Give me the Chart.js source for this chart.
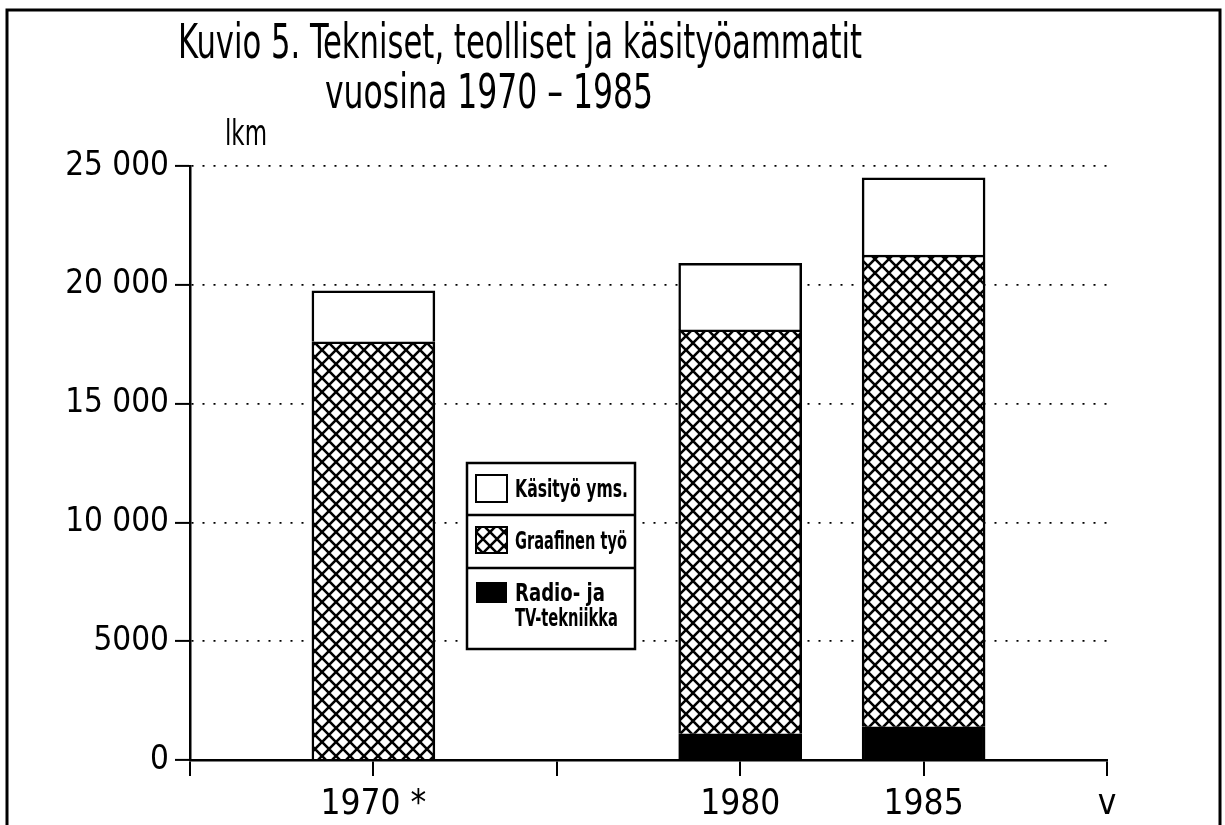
<!DOCTYPE html>
<html>
<head>
<meta charset="utf-8">
<script src="https://cdn.jsdelivr.net/npm/chart.js@4/dist/chart.umd.min.js"></script>
<style>
  body { margin: 0; background: #fff; }
</style>
</head>
<body>
<canvas id="myChart" width="1225" height="825"></canvas>
<script>
// data (persons)
var years = [1970, 1980, 1985];
var radioTv = [0, 1100, 1400];
var graafinen = [17600, 17000, 19850];
var kasityo = [2150, 2800, 3250];
var yTicks = [0, 5000, 10000, 15000, 20000, 25000];
var xLabels = { 1970: '1970 *', 1980: '1980', 1985: '1985', 1990: 'v' };

var FONT = "'Liberation Sans Narrow', 'DejaVu Sans Condensed', sans-serif";

function points(values) {
    return years.map(function (y, i) { return { x: y, y: values[i] }; });
}

function makeHatch(ctx) {
    var c = document.createElement('canvas');
    c.width = 14; c.height = 14;
    var g = c.getContext('2d');
    g.fillStyle = '#fff';
    g.fillRect(0, 0, 14, 14);
    g.strokeStyle = '#000';
    g.lineWidth = 2.6;
    g.beginPath();
    g.moveTo(-2, -2); g.lineTo(16, 16);
    g.moveTo(16, -2); g.lineTo(-2, 16);
    g.stroke();
    return ctx.createPattern(c, 'repeat');
}

function displayChart() {
    var ctx = document.getElementById('myChart').getContext('2d');
    var hatch = makeHatch(ctx);

    // title, unit label, legend box and outer frame
    var decor = {
        id: 'decor',
        afterDraw: function (chart) {
            var c = chart.ctx;
            c.save();
            c.fillStyle = '#000';
            c.strokeStyle = '#000';
            c.textBaseline = 'alphabetic';
            c.textAlign = 'left';

            c.font = '48px ' + FONT;
            c.fillText('Kuvio 5. Tekniset, teolliset ja käsityöammatit', 178, 58, 684);
            c.fillText('vuosina 1970 – 1985', 325, 108, 328);
            c.font = '36px ' + FONT;
            c.fillText('lkm', 225, 145, 42);

            // frame
            c.lineWidth = 3;
            c.strokeRect(7, 10, 1213, 830);

            // legend
            var lx = 467, ly = 463, lw = 168;
            c.fillStyle = '#fff';
            c.fillRect(lx, ly, lw, 186);
            c.lineWidth = 2.5;
            c.strokeRect(lx, ly, lw, 186);
            c.beginPath();
            c.moveTo(lx, 515); c.lineTo(lx + lw, 515);
            c.moveTo(lx, 568); c.lineTo(lx + lw, 568);
            c.stroke();

            var ds = chart.data.datasets;
            c.lineWidth = 2;
            c.fillStyle = '#fff';
            c.fillRect(476, 475, 31, 27); c.strokeRect(476, 475, 31, 27);
            c.fillStyle = hatch;
            c.fillRect(476, 527, 31, 26); c.strokeRect(476, 527, 31, 26);
            c.fillStyle = '#000';
            c.fillRect(476, 582, 31, 21);

            c.fillStyle = '#000';
            c.font = 'bold 24px ' + FONT;
            c.fillText(ds[2].label, 515, 497, 113);
            c.fillText(ds[1].label, 515, 549, 112);
            c.fillText('Radio- ja', 515, 601, 90);
            c.fillText('TV-tekniikka', 515, 626, 103);
            c.restore();
        }
    };

    var chart = new Chart(ctx, {
        type: 'bar',
        data: {
            datasets: [{
                label: 'Radio- ja TV-tekniikka',
                data: points(radioTv),
                backgroundColor: '#000',
                borderColor: '#000',
                borderWidth: 2.5
            }, {
                label: 'Graafinen työ',
                data: points(graafinen),
                backgroundColor: hatch,
                borderColor: '#000',
                borderWidth: 2.5
            }, {
                label: 'Käsityö yms.',
                data: points(kasityo),
                backgroundColor: '#fff',
                borderColor: '#000',
                borderWidth: 2.5
            }]
        },
        options: {
            responsive: false,
            animation: false,
            barThickness: 123,
            layout: { padding: { top: 166, left: 10, right: 118, bottom: 0 } },
            plugins: { legend: { display: false }, tooltip: { enabled: false } },
            scales: {
                x: {
                    type: 'linear',
                    stacked: true,
                    offset: false,
                    min: 1965,
                    max: 1990,
                    afterBuildTicks: function (axis) {
                        axis.ticks = [1965, 1970, 1975, 1980, 1985, 1990].map(function (v) { return { value: v }; });
                    },
                    afterFit: function (axis) { axis.height = 65; },
                    grid: { offset: false, drawOnChartArea: false, drawTicks: true, tickLength: 16, color: '#000', lineWidth: 2 },
                    border: { color: '#000', width: 2.5 },
                    ticks: {
                        color: '#000',
                        padding: 8,
                        maxRotation: 0,
                        autoSkip: false,
                        font: { family: FONT, size: 35 },
                        callback: function (v) { return xLabels[v] || ''; }
                    }
                },
                y: {
                    stacked: true,
                    min: 0,
                    max: 25000,
                    afterBuildTicks: function (axis) {
                        axis.ticks = yTicks.map(function (v) { return { value: v }; });
                    },
                    afterFit: function (axis) { axis.width = 180; },
                    grid: {
                        color: '#000', lineWidth: 1.8, tickLength: 15,
                        tickBorderDash: [], tickColor: '#000', tickWidth: 2
                    },
                    border: { color: '#000', width: 2.5, dash: [2, 9] },
                    ticks: {
                        color: '#000',
                        padding: 6,
                        font: { family: FONT, size: 33 },
                        callback: function (v) {
                            return v >= 10000 ? String(v).replace(/(\d+)(\d{3})$/, '$1 $2') : String(v);
                        }
                    }
                }
            }
        },
        plugins: [decor]
    });
}

displayChart();
</script>
</body>
</html>
